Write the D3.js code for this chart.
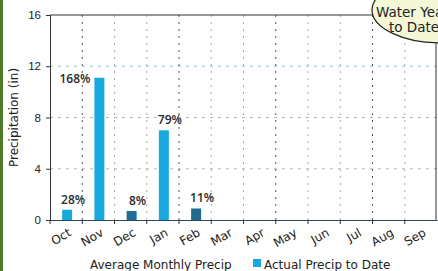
<!DOCTYPE html>
<html>
<head>
<meta charset="utf-8">
<script src="https://cdn.jsdelivr.net/npm/d3@7"></script>
<style>
  body { margin: 0; background: #fff; }
  svg { display: block; font-family: "DejaVu Sans", sans-serif; }
  .tick text { fill: #222; }
</style>
</head>
<body>
<svg id="chart" width="438" height="271"></svg>
<script>
// Water year months
const months = ['Oct', 'Nov', 'Dec', 'Jan', 'Feb', 'Mar', 'Apr', 'May', 'Jun', 'Jul', 'Aug', 'Sep'];
// Actual precipitation to date (inches), months with data only
const actualPrecip = [0.8, 11.1, 0.7, 7.0, 0.9];
// Percent of average
const pctLabels = ['28%', '168%', '8%', '79%', '11%'];
// Bar colours as seen in the picture
const barColors = ['#1aa9de', '#1aa9de', '#1f6d98', '#1aa9de', '#226b90'];
const yTicks = [0, 4, 8, 12, 16];

const svg = d3.select('#chart');
const margin = { top: 15, right: 1, bottom: 51, left: 50 };
const width = 438 - margin.left - margin.right;
const height = 271 - margin.top - margin.bottom;

const x = d3.scaleBand().domain(months).range([0, width]);
const y = d3.scaleLinear().domain([0, 16]).range([height, 0]);

// green strip on the left edge
svg.append('rect').attr('x', 0).attr('y', 0).attr('width', 3).attr('height', 271).attr('fill', '#4f7a2a');

const g = svg.append('g').attr('transform', `translate(${margin.left},${margin.top})`);

// horizontal grid lines
g.selectAll('.hgrid')
    .data(yTicks.filter(d => d > 0 && d < 16))
    .enter()
    .append('line')
    .attr('x1', 0)
    .attr('x2', width)
    .attr('y1', d => y(d))
    .attr('y2', d => y(d))
    .attr('stroke', d => d === 12 ? '#8cc7d6' : '#b5b5b5')
    .attr('stroke-dasharray', '3,5');

// vertical grid lines between months
g.selectAll('.vgrid')
    .data(months.slice(1))
    .enter()
    .append('line')
    .attr('x1', d => x(d))
    .attr('x2', d => x(d))
    .attr('y1', 0)
    .attr('y2', height)
    .attr('stroke', (d, i) => i % 3 === 0 ? '#555' : '#aaa')
    .attr('stroke-dasharray', '2,5');

// bars
const barW = 10;
g.selectAll('.bar')
    .data(actualPrecip)
    .enter()
    .append('rect')
    .attr('x', (d, i) => x(months[i]) + x.bandwidth() / 2 - barW / 2 + 1)
    .attr('y', d => y(d))
    .attr('width', barW)
    .attr('height', d => height - y(d))
    .attr('fill', (d, i) => barColors[i]);

// percent labels
g.selectAll('.pct')
    .data(actualPrecip)
    .enter()
    .append('text')
    .attr('x', (d, i) => {
        const cx = x(months[i]) + x.bandwidth() / 2 + 1;
        return d > 10 ? cx - 9 : cx + 6;   // tall bar: label sits beside it
    })
    .attr('y', d => d > 10 ? y(d) + 5 : y(d) - 6)
    .attr('text-anchor', d => d > 10 ? 'end' : 'middle')
    .attr('font-family', '"Open Sans", sans-serif')
    .attr('font-weight', 600)
    .attr('font-size', 12)
    .attr('fill', '#2a2a2a')
    .text((d, i) => pctLabels[i]);

// frame
g.append('line').attr('x1', 0).attr('x2', width).attr('y1', 0).attr('y2', 0).attr('stroke', '#333');
g.append('line').attr('x1', width - 1).attr('x2', width - 1).attr('y1', 0).attr('y2', height).attr('stroke', '#333');

// y axis
g.append('g')
    .call(d3.axisLeft(y).tickValues(yTicks).tickSize(4).tickPadding(5))
    .call(a => a.select('.domain').attr('stroke', '#333'))
    .call(a => a.selectAll('.tick line').attr('stroke', '#333'))
    .call(a => a.selectAll('.tick text').attr('font-size', 11.5).attr('fill', '#333'));

// x axis
const xAxis = g.append('g')
    .attr('transform', `translate(0,${height})`)
    .call(d3.axisBottom(x).tickSize(0).tickFormat(''));
xAxis.select('.domain').attr('stroke', '#2a4a5a');
g.selectAll('.xtick')
    .data(months)
    .enter()
    .append('line')
    .attr('x1', d => x(d))
    .attr('x2', d => x(d))
    .attr('y1', height)
    .attr('y2', height + 4)
    .attr('stroke', '#333');
g.selectAll('.xlabel')
    .data(months)
    .enter()
    .append('text')
    .attr('transform', d => `translate(${x(d) + x.bandwidth() / 2 + 6},${height + 15}) rotate(-30)`)
    .attr('text-anchor', 'end')
    .attr('font-size', 12)
    .attr('fill', '#222')
    .text(d => d);

// y axis title
svg.append('text')
    .attr('transform', `translate(18,${margin.top + height / 2}) rotate(-90)`)
    .attr('text-anchor', 'middle')
    .attr('font-size', 12)
    .attr('fill', '#222')
    .text('Precipitation (in)');

// legend
svg.append('text').attr('x', 90).attr('y', 269).attr('font-size', 12).attr('fill', '#222')
    .text('Average Monthly Precip');
svg.append('rect').attr('x', 253).attr('y', 259).attr('width', 8).attr('height', 8).attr('fill', '#1aa9de');
svg.append('text').attr('x', 264).attr('y', 269).attr('font-size', 12).attr('fill', '#222')
    .text('Actual Precip to Date');

// callout bubble (runs off the right edge, as in the original)
svg.append('ellipse')
    .attr('cx', 442).attr('cy', 10).attr('rx', 70).attr('ry', 33)
    .attr('fill', '#f4f8d6').attr('stroke', '#222').attr('stroke-width', 1.2);
svg.append('text').attr('x', 376).attr('y', 17).attr('font-size', 13.5).attr('fill', '#222').text('Water Year');
svg.append('text').attr('x', 389).attr('y', 32).attr('font-size', 13.5).attr('fill', '#222').text('to Date');
</script>
</body>
</html>
